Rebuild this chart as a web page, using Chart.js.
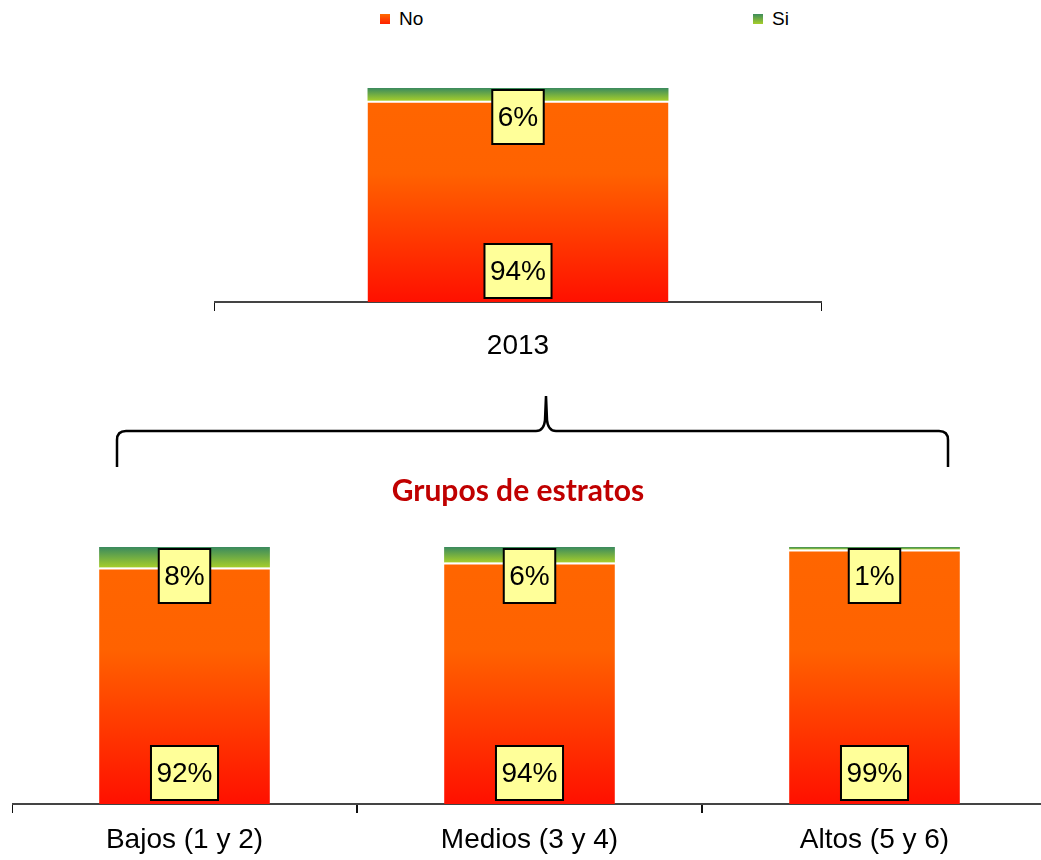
<!DOCTYPE html>
<html>
<head>
<meta charset="utf-8">
<script src="https://cdn.jsdelivr.net/npm/chart.js@4"></script>
<style>
    html, body { margin: 0; padding: 0; background: #fff; overflow: hidden; }
    body { width: 1041px; height: 860px; position: relative; font-family: "Liberation Sans", Arial, sans-serif; }
    .legend-item { position: absolute; top: 7px; font-size: 19px; color: #000; line-height: 24px; }
    .legend-item i { display: inline-block; width: 10px; height: 10px; margin-right: 9px; vertical-align: 1px; }
    #title { position: absolute; left: 0; width: 1036px; top: 471px; line-height: 36px; text-align: center;
             font-family: Lato, "Open Sans", sans-serif; font-weight: bold; font-size: 30px; color: #C00000; }
    canvas { position: absolute; }
</style>
</head>
<body>

<div class="legend-item" style="left:380px"><i style="background:linear-gradient(#FF6A00,#FF2000)"></i>No</div>
<div class="legend-item" style="left:753px"><i style="background:linear-gradient(#3D8C5C,#A6CE2A)"></i>Si</div>

<canvas id="topChart" width="608" height="282" style="left:214px; top:80px"></canvas>

<svg width="1041" height="860" style="position:absolute; left:0; top:0; pointer-events:none">
    <path d="M117,467 L117,440 Q117,431 126,431 L536,431 Q544,431 545,420 L546,396 L547,420 Q548,431 556,431 L939,431 Q948,431 948,440 L948,467"
          fill="none" stroke="#000" stroke-width="2.5"/>
</svg>
<div id="title">Grupos de estratos</div>

<canvas id="bottomChart" width="1035" height="324" style="left:12px; top:540px"></canvas>

<script>
// ---------- DATA ----------
const seriesNames = ['No', 'Si'];
const topCategories = ['2013'];
const topNo = [94];
const topSi = [6];
const bottomCategories = ['Bajos (1 y 2)', 'Medios (3 y 4)', 'Altos (5 y 6)'];
const bottomNo = [92, 94, 99];
const bottomSi = [8, 6, 1];

const FONT = '"Liberation Sans", Arial, sans-serif';

// ---------- GRADIENTS ----------
function noColor(ctx) {
    const c = ctx.chart;
    const area = c.chartArea;
    if (!area) return '#FF6600';
    const g = c.ctx.createLinearGradient(0, area.top, 0, area.bottom);
    g.addColorStop(0, '#FF6600');
    g.addColorStop(0.4, '#FF6200');
    g.addColorStop(1, '#FF1000');
    return g;
}

function siColor(noVals, siVals) {
    return ctx => {
        const c = ctx.chart;
        const y = c.scales.y;
        const i = ctx.dataIndex;
        if (!c.chartArea || !y || i === undefined) return '#6AAD45';
        const top = y.getPixelForValue(noVals[i] + siVals[i]);
        const bot = y.getPixelForValue(noVals[i]);
        if (!(bot > top)) return '#6AAD45';
        const g = c.ctx.createLinearGradient(0, top, 0, bot);
        g.addColorStop(0, '#3A8A5E');
        g.addColorStop(1, '#A6CE2A');
        return g;
    };
}

// ---------- VALUE BOXES ----------
const valueBoxes = {
    id: 'valueBoxes',
    afterDatasetsDraw(chart) {
        const ctx = chart.ctx;
        ctx.save();
        ctx.font = '28px ' + FONT;
        ctx.textAlign = 'center';
        ctx.textBaseline = 'middle';
        chart.data.datasets.forEach((ds, di) => {
            const meta = chart.getDatasetMeta(di);
            meta.data.forEach((el, i) => {
                const txt = ds.data[i] + '%';
                const w = ctx.measureText(txt).width + 11;
                const h = 54;
                const y0 = di === 0 ? el.base - 4 - h : el.y + 2;
                const x0 = el.x - w / 2;
                ctx.fillStyle = '#FFFF99';
                ctx.fillRect(x0, y0, w, h);
                ctx.lineWidth = 2;
                ctx.strokeStyle = '#000';
                ctx.strokeRect(x0, y0, w, h);
                ctx.fillStyle = '#000';
                ctx.fillText(txt, el.x, y0 + h / 2 + 1);
            });
        });
        ctx.restore();
    }
};

// ---------- CHART ----------
function makeChart(id, labels, noVals, siVals, padTop, labelPad) {
    return new Chart(document.getElementById(id), {
        type: 'bar',
        data: {
            labels: labels,
            datasets: [
                {
                    label: seriesNames[0],
                    data: noVals,
                    backgroundColor: noColor,
                    borderColor: '#fff',
                    borderWidth: { top: 2, left: 0, right: 0, bottom: 0 },
                    borderSkipped: false
                },
                {
                    label: seriesNames[1],
                    data: siVals,
                    backgroundColor: siColor(noVals, siVals),
                    borderWidth: 0
                }
            ]
        },
        options: {
            responsive: false,
            animation: false,
            devicePixelRatio: 1,
            layout: { padding: { top: padTop, left: 0, right: 0, bottom: 0 } },
            categoryPercentage: 1,
            barPercentage: 0.495,
            plugins: {
                legend: { display: false },
                tooltip: { enabled: false }
            },
            scales: {
                x: {
                    stacked: true,
                    offset: true,
                    grid: { display: true, offset: true, drawOnChartArea: false, tickLength: 9, color: '#111', lineWidth: 2 },
                    border: { display: true, color: '#444', width: 2 },
                    ticks: { color: '#000', font: { family: FONT, size: 28 }, padding: labelPad, maxRotation: 0 },
                    afterFit: s => { s.height = 60; }
                },
                y: {
                    stacked: true,
                    display: false,
                    min: 0,
                    max: 100
                }
            }
        },
        plugins: [valueBoxes]
    });
}

makeChart('topChart', topCategories, topNo, topSi, 8, 18);
makeChart('bottomChart', bottomCategories, bottomNo, bottomSi, 7, 10);
</script>
</body>
</html>
